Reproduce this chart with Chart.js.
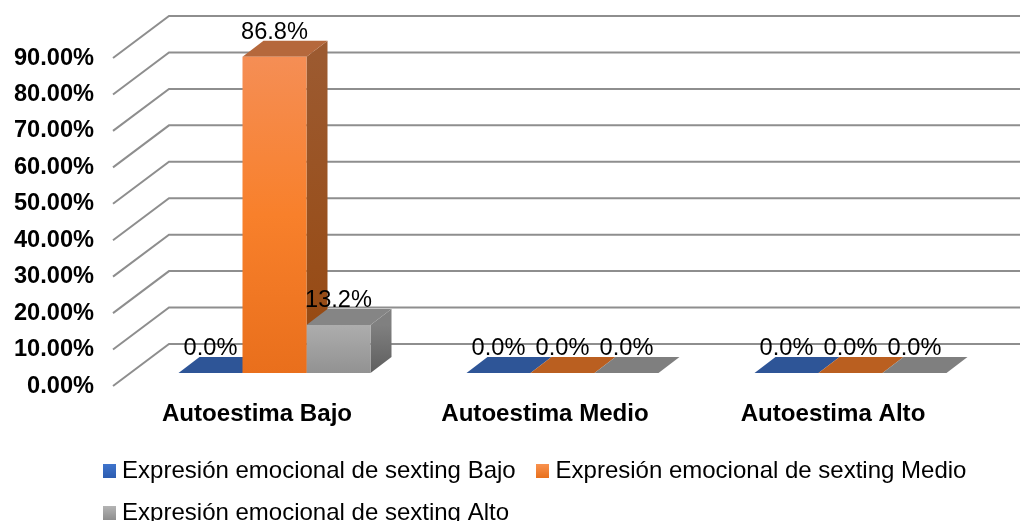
<!DOCTYPE html>
<html><head><meta charset="utf-8">
<style>html,body{margin:0;padding:0;background:#fff;overflow:hidden}canvas{display:block}</style>
<script src="https://cdn.jsdelivr.net/npm/chart.js@4"></script>
</head><body><canvas id="c" width="1020" height="521"></canvas>
<script>
const categories = ['Autoestima Bajo','Autoestima Medio','Autoestima Alto'];
const seriesNames = ['Expresión emocional de sexting Bajo','Expresión emocional de sexting Medio','Expresión emocional de sexting Alto'];
const valuesBajo = [0,0,0];
const valuesMedio = [86.8,0,0];
const valuesAlto = [13.2,0,0];

const FONT='"Liberation Sans",Arial,sans-serif';
const WALL={dx:56,dy:-42}, DEPTH={dx:21,dy:-16}, SHIFT={dx:17.5,dy:-13};
const looks=[
 {top:['#2E5597','#2E5597'],side:['#2E5597','#2E5597'],front:['#3A6AB8','#2E5A9E'],key:['#3F74CC','#2C5CB0']},
 {top:['#B5683C','#BA5F20'],side:['#9C5A30','#96480F'],front:['#F58E55','#F8802B','#E96F1C'],key:['#F9924F','#E8701C']},
 {top:['#858585','#7F7F7F'],side:['#808080','#5E5E5E'],front:['#ADADAD','#929292'],key:['#B4B4B4','#8E8E8E']}
];
function grad(ctx,y0,y1,cols){const g=ctx.createLinearGradient(0,y0,0,y1);cols.forEach((c,i)=>g.addColorStop(i/(cols.length-1),c));return g;}
function poly(ctx,pts,fill){ctx.beginPath();pts.forEach((p,i)=>i?ctx.lineTo(p[0],p[1]):ctx.moveTo(p[0],p[1]));ctx.closePath();ctx.fillStyle=fill;ctx.fill();}
function keyCanvas(cols){const k=document.createElement('canvas');k.width=13;k.height=14;const x=k.getContext('2d');x.fillStyle=grad(x,0,14,cols);x.fillRect(0,0,13,14);return k;}
const keys=looks.map(l=>keyCanvas(l.key));

const scene={id:'scene',
 beforeDraw(chart){
  const lg=chart.legend;
  lg.left=90.9;lg.right=1020;lg.top=441;
 },
 beforeDatasetsDraw(chart){
  const {ctx,scales:{y},chartArea:a}=chart;
  ctx.save();
  ctx.strokeStyle='#8E8E8E';ctx.lineWidth=2;
  y.ticks.forEach(t=>{const p=y.getPixelForValue(t.value);
   ctx.beginPath();ctx.moveTo(a.left,p);ctx.lineTo(a.left+WALL.dx,p+WALL.dy);ctx.lineTo(a.right+WALL.dx,p+WALL.dy);ctx.stroke();});
  ctx.restore();
  ctx.save();
  ctx.translate(SHIFT.dx,SHIFT.dy);
  chart.data.datasets.forEach((ds,di)=>{
   const L=looks[di];
   chart.getDatasetMeta(di).data.forEach(b=>{
    const l=b.x-b.width/2,r=b.x+b.width/2,t=b.y,bs=b.base,dx=DEPTH.dx,dy=DEPTH.dy;
    if(bs-t>0.5) poly(ctx,[[r,t],[r+dx,t+dy],[r+dx,bs+dy],[r,bs]],grad(ctx,t,bs,L.side));
    poly(ctx,[[l,t],[l+dx,t+dy],[r+dx,t+dy],[r,t]],bs-t>0.5?L.top[0]:L.top[1]);
   });
  });
 },
 afterDatasetsDraw(chart){
  const {ctx}=chart;
  ctx.font='23.6px '+FONT;ctx.fillStyle='#000';ctx.textAlign='center';ctx.textBaseline='alphabetic';
  chart.data.datasets.forEach((ds,di)=>{
   chart.getDatasetMeta(di).data.forEach((b,i)=>{ctx.fillText(ds.data[i].toFixed(1)+'%',b.x,b.y-18);});
  });
  ctx.restore();
 }
};

new Chart(document.getElementById('c'),{
 type:'bar',
 data:{labels:categories,datasets:[valuesBajo,valuesMedio,valuesAlto].map((v,i)=>({
  label:seriesNames[i],data:v,clip:false,borderWidth:0,
  backgroundColor(c){
   const y=c.chart.scales.y;if(!y||y.bottom===undefined)return looks[i].key[0];
   const v0=c.raw||0;return grad(c.chart.ctx,y.getPixelForValue(v0),y.getPixelForValue(0),looks[i].front);}
 }))},
 plugins:[scene],
 options:{
  responsive:false,animation:false,events:[],
  layout:{padding:{left:0,right:43,top:58,bottom:0}},
  datasets:{bar:{categoryPercentage:192/288,barPercentage:1}},
  scales:{
   x:{grid:{display:false},border:{display:false},
      afterFit(s){s.height=41;},
      ticks:{padding:6,maxRotation:0,color:'#000',font:{family:FONT,size:24.1,weight:'bold'}}},
   y:{min:0,max:90,grid:{display:false},border:{display:false},
      afterFit(s){s.width=113;},
      ticks:{stepSize:10,padding:11,color:'#000',font:{family:FONT,size:23.6,weight:'bold'},callback:v=>v.toFixed(2)+'%'}}
  },
  plugins:{tooltip:{enabled:false},title:{display:false},
   legend:{position:'bottom',align:'start',
    labels:{usePointStyle:true,boxWidth:1.2,boxHeight:14,padding:18,color:'#000',
     font:{family:FONT,size:24},
     generateLabels(ch){return Chart.defaults.plugins.legend.labels.generateLabels(ch).map((it,i)=>{it.pointStyle=keys[i];it.text=it.text+'\u00A0\u200A';return it;});}
    }}
  }
 }
});
</script></body></html>
